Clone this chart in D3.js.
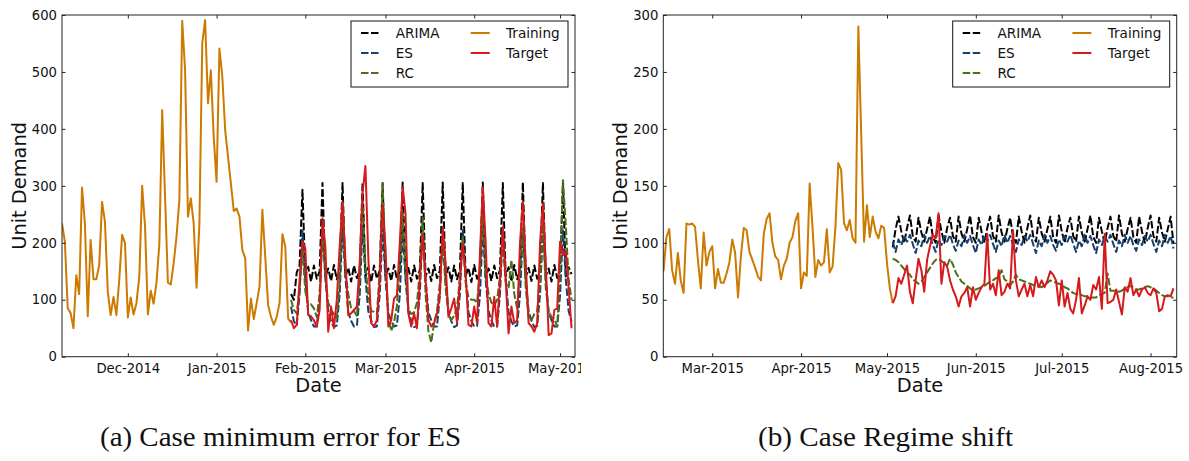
<!DOCTYPE html>
<html>
<head>
<meta charset="utf-8">
<script src="https://cdn.jsdelivr.net/npm/d3@7/dist/d3.min.js"></script>
<style>
	body { margin: 0; background: #fff; }
	svg text { font-family: "DejaVu Sans", sans-serif; fill: #111; }
</style>
</head>
<body>
<svg id="fig" width="1189" height="461"></svg>
<script>
"use strict";

// legend order, column-major like the original figure
var seriesNames = ["ARIMA", "ES", "RC", "Training", "Target"];
var seriesColors = ["#000000", "#17406d", "#4a7019", "#cc7a00", "#d6191b"];
var seriesDashed = [true, true, true, false, false];

// panel (a): case minimum error for ES
var trainStartA = "2014-11-08";
var forecastStartA = "2015-01-27";
var trainingA = [234, 202, 85, 77, 50, 143, 110, 297, 234, 71,
	205, 136, 136, 161, 272, 237, 114, 73, 105, 73,
	135, 214, 200, 69, 104, 74, 94, 140, 300, 230,
	74, 116, 93, 130, 197, 433, 281, 130, 127, 164,
	211, 275, 590, 503, 246, 278, 234, 121, 234, 550,
	591, 445, 503, 386, 307, 541, 492, 398, 351, 304,
	256, 260, 246, 187, 173, 46, 102, 66, 94, 123,
	258, 176, 91, 70, 56, 70, 94, 215, 193, 67,
	60];
var arimaA = [110, 100, 148, 160,
	293, 142, 158, 132, 160, 137, 150,
	305, 140, 155, 133, 161, 136, 152,
	305, 141, 156, 132, 160, 138, 151,
	306, 140, 157, 131, 160, 137, 152,
	305, 142, 155, 133, 161, 136, 150,
	306, 140, 156, 132, 160, 137, 152,
	305, 141, 155, 133, 161, 138, 151,
	306, 140, 157, 132, 160, 136, 152,
	305, 142, 156, 131, 161, 137, 150,
	306, 140, 155, 133, 160, 138, 152,
	305, 141, 157, 132, 161, 136, 151,
	306, 140, 156, 133, 160, 137, 152,
	305, 142, 155, 132, 161, 138, 150,
	306, 141, 157, 145];
var esA = [88, 62, 55, 110,
	222, 135, 78, 64, 53, 53, 105,
	225, 138, 80, 62, 52, 55, 110,
	228, 140, 78, 63, 53, 54, 108,
	230, 138, 80, 64, 52, 53, 110,
	226, 136, 78, 62, 53, 55, 108,
	222, 135, 80, 63, 52, 54, 110,
	228, 138, 78, 64, 53, 53, 108,
	222, 136, 80, 62, 52, 55, 110,
	222, 138, 78, 63, 53, 54, 108,
	225, 135, 80, 64, 52, 53, 110,
	226, 138, 78, 62, 53, 55, 108,
	220, 136, 80, 63, 52, 54, 110,
	224, 138, 78, 64, 53, 53, 108,
	222, 135, 80, 62];
var rcA = [100, 82, 76, 120,
	190, 115, 90, 92, 85, 70, 110,
	230, 140, 95, 82, 75, 68, 130,
	275, 150, 110, 85, 80, 72, 140,
	275, 160, 108, 80, 79, 75, 150,
	304, 170, 70, 45, 60, 90, 160,
	255, 150, 85, 75, 78, 95, 150,
	245, 110, 45, 25, 60, 80, 130,
	205, 120, 76, 64, 72, 85, 140,
	210, 130, 105, 100, 100, 95, 150,
	250, 140, 111, 95, 90, 100, 140,
	200, 130, 120, 170, 110, 85, 150,
	225, 120, 70, 64, 75, 80, 130,
	235, 120, 80, 70, 65, 53, 150,
	310, 230, 135, 100];
var targetA = [64, 50, 56, 135,
	202, 190, 73, 71, 64, 53, 82,
	243, 193, 44, 88, 50, 100, 193,
	272, 170, 73, 76, 82, 88, 164,
	287, 335, 176, 59, 53, 64, 135,
	266, 193, 53, 64, 102, 108, 200,
	298, 252, 76, 53, 76, 50, 135,
	216, 135, 64, 53, 59, 76, 110,
	228, 164, 70, 85, 102, 59, 135,
	199, 146, 56, 53, 88, 59, 180,
	298, 200, 59, 53, 105, 53, 135,
	228, 135, 41, 88, 59, 64, 200,
	272, 164, 59, 53, 44, 59, 200,
	269, 164, 38, 41, 82, 85, 202,
	178, 187, 120, 50];
var yTicksA = [0, 100, 200, 300, 400, 500, 600];
var monthTicksA = ["2014-12-01", "2015-01-01", "2015-02-01", "2015-03-01", "2015-04-01", "2015-05-01"];

// panel (b): case regime shift
var trainStartB = "2015-02-12";
var forecastStartB = "2015-05-03";
var trainingB = [75, 105, 112, 76, 64, 91, 67, 56, 117, 116,
	117, 114, 85, 60, 109, 80, 92, 97, 60, 77,
	65, 65, 73, 83, 103, 91, 52, 88, 113, 111,
	92, 85, 78, 70, 67, 108, 121, 126, 100, 88,
	85, 68, 80, 86, 100, 105, 119, 126, 60, 74,
	71, 152, 114, 70, 85, 80, 83, 112, 74, 79,
	114, 170, 164, 117, 111, 120, 104, 100, 290, 195,
	101, 133, 105, 123, 110, 104, 115, 113, 82, 60,
	47];
var arimaB = [96, 112,
	123, 110, 100, 113, 124, 106, 101,
	122, 109, 101, 112, 123, 105, 100,
	124, 110, 100, 113, 122, 106, 101,
	123, 108, 101, 112, 124, 105, 100,
	122, 110, 100, 113, 123, 106, 101,
	124, 109, 101, 112, 122, 105, 100,
	123, 110, 100, 113, 124, 106, 101,
	122, 108, 101, 112, 123, 105, 100,
	124, 110, 100, 113, 122, 106, 101,
	123, 109, 101, 112, 124, 105, 100,
	122, 110, 100, 113, 123, 106, 101,
	124, 108, 101, 112, 122, 105, 100,
	123, 110, 100, 113, 124, 106, 101,
	122, 109, 101, 112, 123, 99];
var esB = [101,
	92, 103, 98, 106, 101, 107, 99,
	91, 102, 97, 107, 100, 106, 98,
	92, 103, 98, 106, 101, 107, 99,
	93, 102, 97, 107, 100, 106, 98,
	91, 103, 98, 106, 101, 107, 99,
	92, 102, 97, 107, 100, 106, 98,
	92, 103, 98, 106, 101, 107, 99,
	91, 102, 97, 107, 100, 106, 98,
	93, 103, 98, 106, 101, 107, 99,
	92, 102, 97, 107, 100, 106, 98,
	91, 103, 98, 106, 101, 107, 99,
	92, 102, 97, 107, 100, 106, 98,
	93, 103, 98, 106, 101, 107, 99,
	92, 102, 97, 107, 100, 106, 95];
var rcB = [86, 85, 83, 80, 77, 74, 72, 68, 66, 64,
	66, 70, 74, 78, 82, 85, 86, 84, 82, 80,
	86, 81, 74, 70, 66, 64, 62, 60, 58, 59,
	60, 61, 62, 64, 66, 67, 69, 70, 76, 68,
	66, 63, 66, 72, 68, 67, 66, 65, 64, 63,
	61, 62, 61, 63, 65, 67, 66, 65, 64, 63,
	61, 60, 58, 56, 55, 55, 54, 53, 53, 52,
	52, 52, 54, 55, 56, 73, 58, 58, 58, 57,
	58, 60, 61, 62, 61, 59, 59, 60, 61, 62,
	61, 60, 58, 56, 54, 53, 53, 52, 52];
var targetB = [47, 53, 69, 64, 72, 80, 57, 47, 67, 86,
	76, 57, 85, 97, 107, 104, 126, 64, 83, 79,
	67, 59, 53, 44, 53, 56, 61, 44, 61, 50,
	56, 61, 64, 108, 59, 64, 54, 76, 54, 57,
	64, 60, 111, 67, 53, 59, 64, 53, 63, 53,
	70, 61, 67, 61, 67, 75, 72, 67, 45, 67,
	44, 56, 42, 38, 50, 69, 38, 45, 53, 50,
	63, 59, 70, 42, 108, 47, 48, 50, 59, 48,
	37, 61, 57, 69, 54, 59, 53, 59, 61, 56,
	54, 60, 56, 40, 42, 53, 54, 53, 60];
var yTicksB = [0, 50, 100, 150, 200, 250, 300];
var monthTicksB = ["2015-03-01", "2015-04-01", "2015-05-01", "2015-06-01", "2015-07-01", "2015-08-01"];

var parseDay = d3.timeParse("%Y-%m-%d");
var fmtMonth = d3.timeFormat("%b-%Y");

// turn a daily series into {date, value} points
function toPoints(start, values) {
	var t0 = parseDay(start);
	return values.map(function(v, i) {
		return {date: d3.timeDay.offset(t0, i), value: v};
	});
}

var svg = d3.select("#fig");

function drawPanel(cfg) {
	var g = svg.append("g").attr("clip-path", "url(#" + cfg.id + "-clip)");
	svg.append("clipPath").attr("id", cfg.id + "-clip")
		.append("rect")
		.attr("x", cfg.clip[0]).attr("y", 0)
		.attr("width", cfg.clip[1] - cfg.clip[0]).attr("height", 461);

	var x = d3.scaleTime().domain(cfg.xDomain).range([cfg.left, cfg.right]);
	var y = d3.scaleLinear().domain([0, cfg.yMax]).range([cfg.bottom, cfg.top]);

	var line = d3.line()
		.x(function(d) { return x(d.date); })
		.y(function(d) { return y(d.value); });

	// series, in the original plotting order
	var series = [
		toPoints(cfg.forecastStart, cfg.arima),
		toPoints(cfg.forecastStart, cfg.es),
		toPoints(cfg.forecastStart, cfg.rc),
		toPoints(cfg.trainStart, cfg.training),
		toPoints(cfg.forecastStart, cfg.target)
	];

	var plot = g.append("g");
	plot.append("clipPath").attr("id", cfg.id + "-plot")
		.append("rect")
		.attr("x", cfg.left).attr("y", cfg.top)
		.attr("width", cfg.right - cfg.left).attr("height", cfg.bottom - cfg.top);

	series.forEach(function(pts, i) {
		plot.append("path")
			.datum(pts)
			.attr("clip-path", "url(#" + cfg.id + "-plot)")
			.attr("fill", "none")
			.attr("stroke", seriesColors[i])
			.attr("stroke-width", 2)
			.attr("stroke-linejoin", "round")
			.attr("stroke-dasharray", seriesDashed[i] ? "7.5,2.5" : null)
			.attr("d", line);
	});

	// axes with inward ticks on all four sides
	var tickVals = cfg.monthTicks.map(parseDay);
	var axisFont = "13.2px";

	var bottomAxis = g.append("g").attr("transform", "translate(0," + cfg.bottom + ")")
		.call(d3.axisBottom(x).tickValues(tickVals).tickFormat(fmtMonth).tickSizeInner(-3.5).tickSizeOuter(0).tickPadding(6));
	var topAxis = g.append("g").attr("transform", "translate(0," + cfg.top + ")")
		.call(d3.axisTop(x).tickValues(tickVals).tickFormat("").tickSizeInner(-3.5).tickSizeOuter(0));
	var leftAxis = g.append("g").attr("transform", "translate(" + cfg.left + ",0)")
		.call(d3.axisLeft(y).tickValues(cfg.yTicks).tickSizeInner(-3.5).tickSizeOuter(0).tickPadding(5));
	var rightAxis = g.append("g").attr("transform", "translate(" + cfg.right + ",0)")
		.call(d3.axisRight(y).tickValues(cfg.yTicks).tickFormat("").tickSizeInner(-3.5).tickSizeOuter(0));

	[bottomAxis, topAxis, leftAxis, rightAxis].forEach(function(a) {
		a.select(".domain").remove();
		a.selectAll(".tick line").attr("stroke", "#222").attr("stroke-width", 1);
		a.selectAll("text").style("font-size", axisFont).attr("fill", "#111")
			.style("font-family", "'DejaVu Sans', sans-serif");
	});
	bottomAxis.selectAll("text").attr("dy", "0.75em");

	// frame
	g.append("rect")
		.attr("x", cfg.left).attr("y", cfg.top)
		.attr("width", cfg.right - cfg.left).attr("height", cfg.bottom - cfg.top)
		.attr("fill", "none").attr("stroke", "#222").attr("stroke-width", 1);

	// axis titles
	g.append("text")
		.attr("x", (cfg.left + cfg.right) / 2).attr("y", cfg.bottom + 35.5)
		.attr("text-anchor", "middle")
		.style("font-size", "19.4px")
		.text("Date");
	g.append("text")
		.attr("transform", "translate(" + (cfg.left - 36) + "," + ((cfg.top + cfg.bottom) / 2) + ") rotate(-90)")
		.attr("text-anchor", "middle")
		.style("font-size", "19.4px")
		.text("Unit Demand");

	// legend, two columns
	var lw = 217, lh = 66;
	var lx = cfg.right - 7 - lw, ly = cfg.top + 6;
	var legend = g.append("g").attr("transform", "translate(" + lx + "," + ly + ")");
	legend.append("rect")
		.attr("width", lw).attr("height", lh)
		.attr("fill", "#fff").attr("stroke", "#111").attr("stroke-width", 1);

	var cols = [{line: 10, text: 44.7}, {line: 119.7, text: 155}];
	seriesNames.forEach(function(name, i) {
		var c = cols[i < 3 ? 0 : 1];
		var row = i < 3 ? i : i - 3;
		var ry = 12 + row * 20;
		legend.append("line")
			.attr("x1", c.line).attr("x2", c.line + 19)
			.attr("y1", ry).attr("y2", ry)
			.attr("stroke", seriesColors[i]).attr("stroke-width", 2)
			.attr("stroke-dasharray", seriesDashed[i] ? "7.5,2.5" : null);
		legend.append("text")
			.attr("x", c.text).attr("y", ry).attr("dy", "0.36em")
			.style("font-size", "13.6px")
			.text(name);
	});

	// sub-caption in the paper's serif
	svg.append("text")
		.attr("x", cfg.captionX).attr("y", 446)
		.attr("textLength", cfg.captionW).attr("lengthAdjust", "spacingAndGlyphs")
		.style("font-family", "'Liberation Serif', 'Times New Roman', serif")
		.style("font-size", "28px")
		.text(cfg.caption);
}

drawPanel({
	id: "pa",
	clip: [0, 581],
	left: 62, right: 575, top: 15, bottom: 356.7,
	xDomain: [new Date(2014, 10, 8), new Date(2015, 4, 6, 5)],
	yMax: 600, yTicks: yTicksA, monthTicks: monthTicksA,
	trainStart: trainStartA, forecastStart: forecastStartA,
	training: trainingA, arima: arimaA, es: esA, rc: rcA, target: targetA,
	caption: "(a) Case minimum error for ES", captionX: 100, captionW: 361
});

drawPanel({
	id: "pb",
	clip: [590, 1189],
	left: 663.3, right: 1176.7, top: 15, bottom: 356.7,
	xDomain: [new Date(2015, 1, 11, 22), new Date(2015, 7, 10, 3)],
	yMax: 300, yTicks: yTicksB, monthTicks: monthTicksB,
	trainStart: trainStartB, forecastStart: forecastStartB,
	training: trainingB, arima: arimaB, es: esB, rc: rcB, target: targetB,
	caption: "(b) Case Regime shift", captionX: 758, captionW: 255
});
</script>
</body>
</html>
